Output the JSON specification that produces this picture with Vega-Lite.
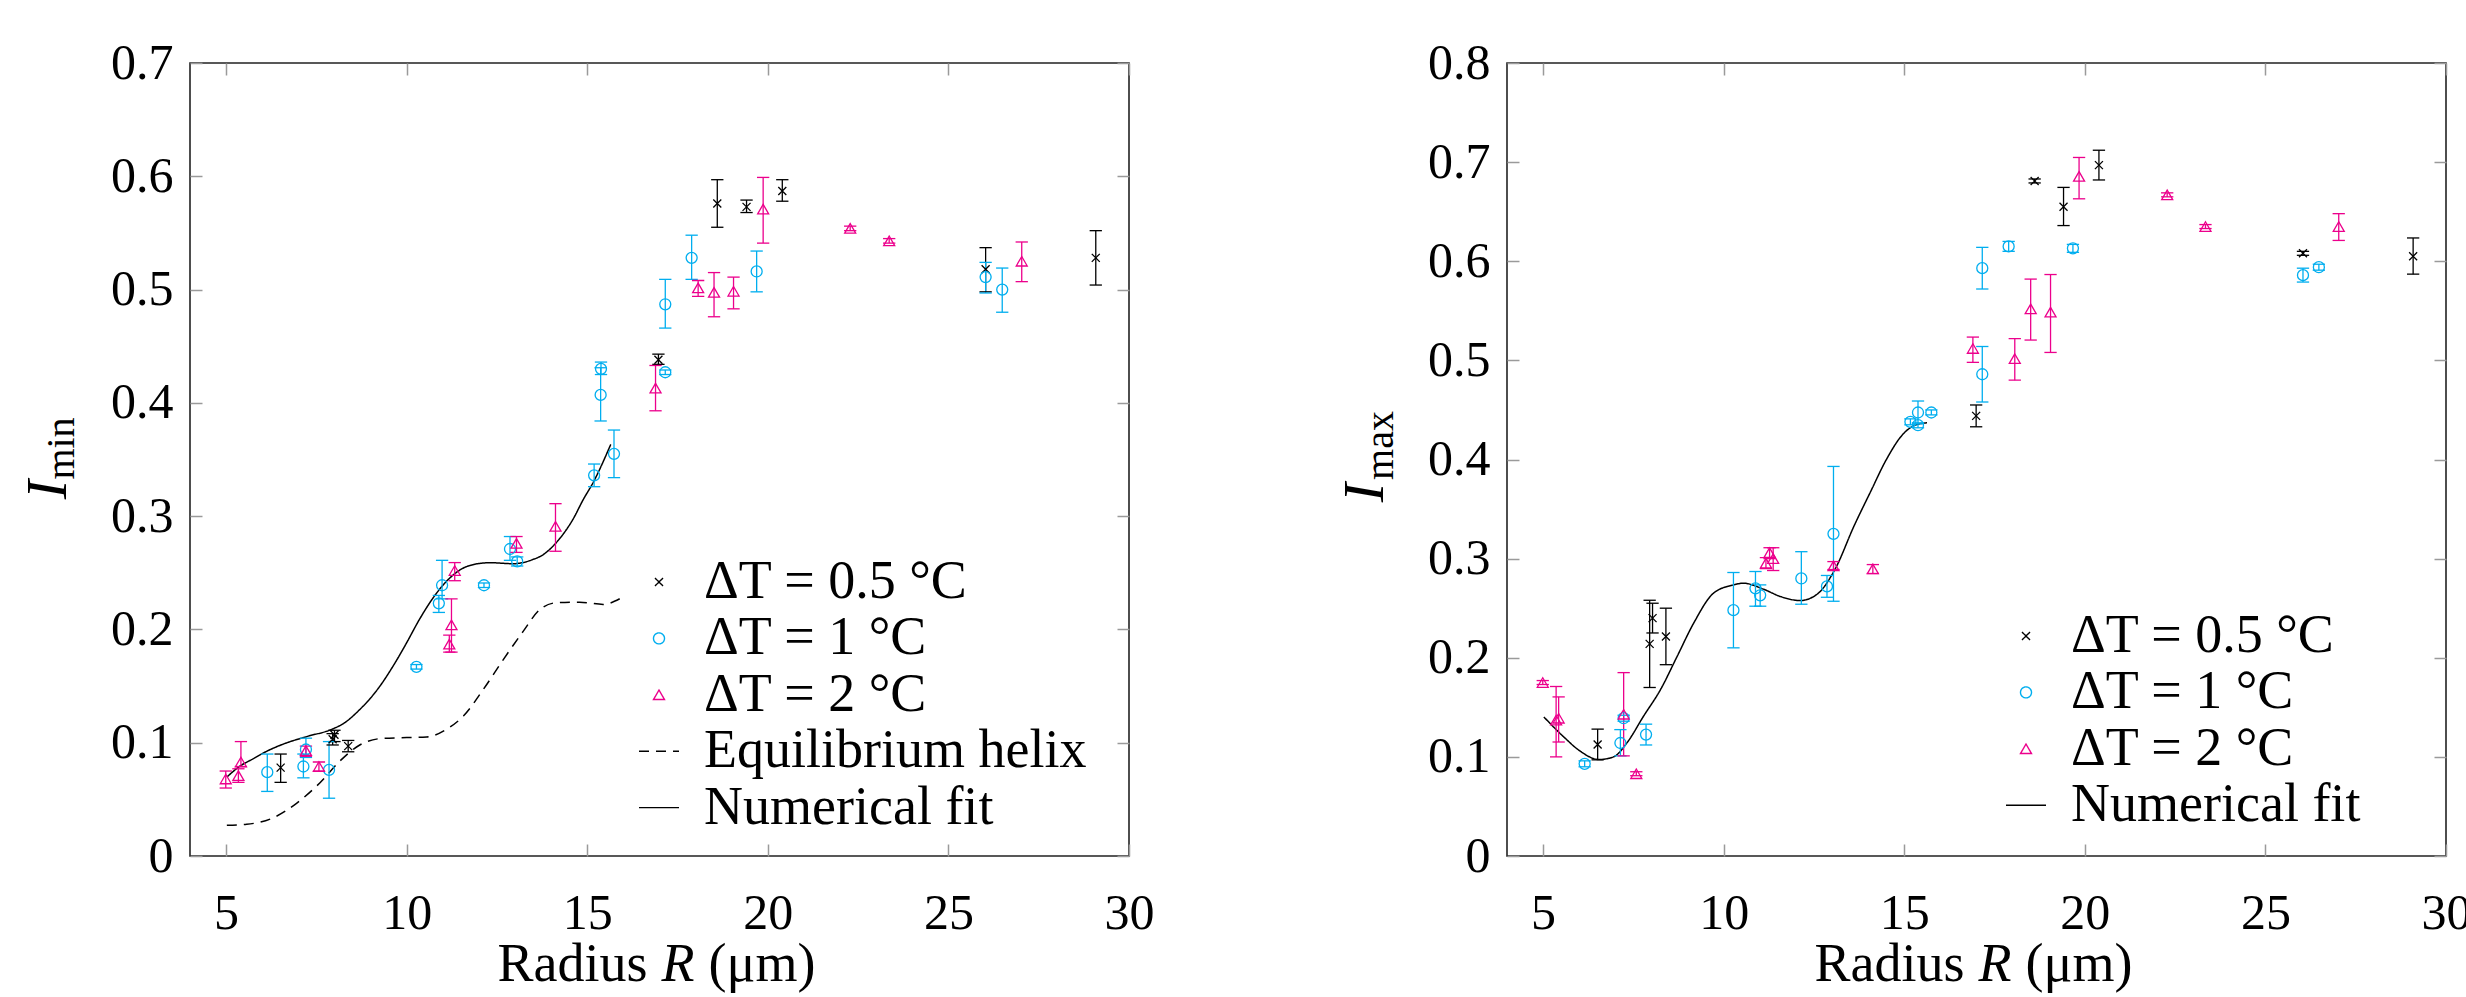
{
  "$schema": "https://vega.github.io/schema/vega-lite/v6.json",
  "autosize": {"type": "none"},
  "padding": {"left": 190, "top": 63, "right": 2276, "bottom": 934},
  "background": "white",
  "bounds": "flush",
  "spacing": 378,
  "config": {
    "font": "Liberation Serif",
    "view": {"stroke": "#222222", "strokeWidth": 1.6},
    "axis": {
      "grid": false, "domain": false, "labelFont": "Liberation Serif", "labelFontSize": 50, "labelColor": "#000000",
      "tickColor": "#9a9a9a", "tickWidth": 1.5, "tickSize": -12, "labelFlush": false, "labelOverlap": false, "labelBound": false,
      "titleColor": "#000000", "titleFont": "Liberation Serif", "titleFontWeight": "normal", "titleFontSize": 54
    },
    "legend": {
      "labelFont": "Liberation Serif", "labelFontSize": 54, "labelColor": "#000000", "labelLimit": 0,
      "symbolStrokeWidth": 1.4, "symbolFillColor": "transparent", "rowPadding": 2.4, "padding": 0
    }
  },
  "datasets": {
    "ptsMin": [
      {"R": 6.51, "I": 0.078, "lo": 0.065, "hi": 0.090, "s": "ΔT = 0.5 °C"},
      {"R": 7.95, "I": 0.103, "lo": 0.098, "hi": 0.108, "s": "ΔT = 0.5 °C"},
      {"R": 8.00, "I": 0.107, "lo": 0.101, "hi": 0.111, "s": "ΔT = 0.5 °C"},
      {"R": 8.38, "I": 0.097, "lo": 0.092, "hi": 0.102, "s": "ΔT = 0.5 °C"},
      {"R": 16.97, "I": 0.438, "lo": 0.434, "hi": 0.443, "s": "ΔT = 0.5 °C"},
      {"R": 18.60, "I": 0.576, "lo": 0.555, "hi": 0.597, "s": "ΔT = 0.5 °C"},
      {"R": 19.41, "I": 0.573, "lo": 0.568, "hi": 0.579, "s": "ΔT = 0.5 °C"},
      {"R": 20.40, "I": 0.587, "lo": 0.578, "hi": 0.597, "s": "ΔT = 0.5 °C"},
      {"R": 26.03, "I": 0.518, "lo": 0.498, "hi": 0.537, "s": "ΔT = 0.5 °C"},
      {"R": 29.08, "I": 0.528, "lo": 0.504, "hi": 0.552, "s": "ΔT = 0.5 °C"},
      {"R": 6.14, "I": 0.074, "lo": 0.057, "hi": 0.090, "s": "ΔT = 1 °C"},
      {"R": 7.14, "I": 0.079, "lo": 0.069, "hi": 0.090, "s": "ΔT = 1 °C"},
      {"R": 7.21, "I": 0.094, "lo": 0.087, "hi": 0.104, "s": "ΔT = 1 °C"},
      {"R": 7.85, "I": 0.076, "lo": 0.051, "hi": 0.101, "s": "ΔT = 1 °C"},
      {"R": 10.27, "I": 0.167, "lo": 0.165, "hi": 0.169, "s": "ΔT = 1 °C"},
      {"R": 10.89, "I": 0.223, "lo": 0.215, "hi": 0.230, "s": "ΔT = 1 °C"},
      {"R": 10.98, "I": 0.239, "lo": 0.227, "hi": 0.261, "s": "ΔT = 1 °C"},
      {"R": 12.14, "I": 0.239, "lo": 0.237, "hi": 0.241, "s": "ΔT = 1 °C"},
      {"R": 12.86, "I": 0.271, "lo": 0.261, "hi": 0.282, "s": "ΔT = 1 °C"},
      {"R": 13.06, "I": 0.260, "lo": 0.256, "hi": 0.264, "s": "ΔT = 1 °C"},
      {"R": 15.19, "I": 0.336, "lo": 0.326, "hi": 0.346, "s": "ΔT = 1 °C"},
      {"R": 15.74, "I": 0.355, "lo": 0.334, "hi": 0.376, "s": "ΔT = 1 °C"},
      {"R": 15.37, "I": 0.407, "lo": 0.384, "hi": 0.431, "s": "ΔT = 1 °C"},
      {"R": 15.38, "I": 0.430, "lo": 0.425, "hi": 0.436, "s": "ΔT = 1 °C"},
      {"R": 17.16, "I": 0.427, "lo": 0.425, "hi": 0.429, "s": "ΔT = 1 °C"},
      {"R": 17.16, "I": 0.487, "lo": 0.466, "hi": 0.509, "s": "ΔT = 1 °C"},
      {"R": 17.89, "I": 0.528, "lo": 0.509, "hi": 0.548, "s": "ΔT = 1 °C"},
      {"R": 19.69, "I": 0.516, "lo": 0.498, "hi": 0.534, "s": "ΔT = 1 °C"},
      {"R": 26.03, "I": 0.511, "lo": 0.497, "hi": 0.524, "s": "ΔT = 1 °C"},
      {"R": 26.49, "I": 0.500, "lo": 0.480, "hi": 0.519, "s": "ΔT = 1 °C"},
      {"R": 4.99, "I": 0.068, "lo": 0.060, "hi": 0.075, "s": "ΔT = 2 °C"},
      {"R": 5.34, "I": 0.071, "lo": 0.065, "hi": 0.077, "s": "ΔT = 2 °C"},
      {"R": 5.41, "I": 0.083, "lo": 0.079, "hi": 0.101, "s": "ΔT = 2 °C"},
      {"R": 7.21, "I": 0.093, "lo": 0.088, "hi": 0.097, "s": "ΔT = 2 °C"},
      {"R": 7.57, "I": 0.079, "lo": 0.075, "hi": 0.083, "s": "ΔT = 2 °C"},
      {"R": 11.18, "I": 0.187, "lo": 0.180, "hi": 0.195, "s": "ΔT = 2 °C"},
      {"R": 11.24, "I": 0.204, "lo": 0.180, "hi": 0.227, "s": "ΔT = 2 °C"},
      {"R": 11.33, "I": 0.252, "lo": 0.243, "hi": 0.259, "s": "ΔT = 2 °C"},
      {"R": 13.04, "I": 0.276, "lo": 0.268, "hi": 0.282, "s": "ΔT = 2 °C"},
      {"R": 14.12, "I": 0.291, "lo": 0.269, "hi": 0.311, "s": "ΔT = 2 °C"},
      {"R": 16.89, "I": 0.413, "lo": 0.393, "hi": 0.433, "s": "ΔT = 2 °C"},
      {"R": 18.07, "I": 0.5015, "lo": 0.494, "hi": 0.508, "s": "ΔT = 2 °C"},
      {"R": 18.51, "I": 0.4975, "lo": 0.476, "hi": 0.515, "s": "ΔT = 2 °C"},
      {"R": 19.05, "I": 0.4985, "lo": 0.483, "hi": 0.511, "s": "ΔT = 2 °C"},
      {"R": 19.87, "I": 0.571, "lo": 0.541, "hi": 0.599, "s": "ΔT = 2 °C"},
      {"R": 22.28, "I": 0.554, "lo": 0.552, "hi": 0.556, "s": "ΔT = 2 °C"},
      {"R": 23.36, "I": 0.543, "lo": 0.541, "hi": 0.545, "s": "ΔT = 2 °C"},
      {"R": 27.03, "I": 0.525, "lo": 0.507, "hi": 0.542, "s": "ΔT = 2 °C"}
    ],
    "linesMin": [
      {"R": 5.02, "I": 0.0697, "s": "Numerical fit"},
      {"R": 5.4, "I": 0.0797, "s": "Numerical fit"},
      {"R": 5.7, "I": 0.085, "s": "Numerical fit"},
      {"R": 6.14, "I": 0.0927, "s": "Numerical fit"},
      {"R": 6.6, "I": 0.099, "s": "Numerical fit"},
      {"R": 7.23, "I": 0.1054, "s": "Numerical fit"},
      {"R": 7.97, "I": 0.1124, "s": "Numerical fit"},
      {"R": 8.3, "I": 0.118, "s": "Numerical fit"},
      {"R": 8.61, "I": 0.1265, "s": "Numerical fit"},
      {"R": 9.26, "I": 0.150, "s": "Numerical fit"},
      {"R": 9.63, "I": 0.168, "s": "Numerical fit"},
      {"R": 10.0, "I": 0.1883, "s": "Numerical fit"},
      {"R": 10.32, "I": 0.207, "s": "Numerical fit"},
      {"R": 10.64, "I": 0.2236, "s": "Numerical fit"},
      {"R": 11.2, "I": 0.2456, "s": "Numerical fit"},
      {"R": 11.75, "I": 0.2565, "s": "Numerical fit"},
      {"R": 12.3, "I": 0.2589, "s": "Numerical fit"},
      {"R": 12.95, "I": 0.258, "s": "Numerical fit"},
      {"R": 13.5, "I": 0.2618, "s": "Numerical fit"},
      {"R": 13.78, "I": 0.266, "s": "Numerical fit"},
      {"R": 14.05, "I": 0.2735, "s": "Numerical fit"},
      {"R": 14.33, "I": 0.284, "s": "Numerical fit"},
      {"R": 14.6, "I": 0.297, "s": "Numerical fit"},
      {"R": 14.89, "I": 0.3147, "s": "Numerical fit"},
      {"R": 15.16, "I": 0.3295, "s": "Numerical fit"},
      {"R": 15.65, "I": 0.3633, "s": "Numerical fit"},
      {"R": 5.02, "I": 0.0271, "s": "Equilibrium helix"},
      {"R": 5.57, "I": 0.028, "s": "Equilibrium helix"},
      {"R": 6.31, "I": 0.0338, "s": "Equilibrium helix"},
      {"R": 6.95, "I": 0.0465, "s": "Equilibrium helix"},
      {"R": 7.6, "I": 0.0647, "s": "Equilibrium helix"},
      {"R": 8.15, "I": 0.0838, "s": "Equilibrium helix"},
      {"R": 8.7, "I": 0.098, "s": "Equilibrium helix"},
      {"R": 9.26, "I": 0.1036, "s": "Equilibrium helix"},
      {"R": 10.0, "I": 0.1045, "s": "Equilibrium helix"},
      {"R": 10.55, "I": 0.105, "s": "Equilibrium helix"},
      {"R": 11.1, "I": 0.1118, "s": "Equilibrium helix"},
      {"R": 11.57, "I": 0.1235, "s": "Equilibrium helix"},
      {"R": 12.12, "I": 0.147, "s": "Equilibrium helix"},
      {"R": 12.68, "I": 0.1736, "s": "Equilibrium helix"},
      {"R": 13.23, "I": 0.1985, "s": "Equilibrium helix"},
      {"R": 13.69, "I": 0.2177, "s": "Equilibrium helix"},
      {"R": 14.15, "I": 0.2236, "s": "Equilibrium helix"},
      {"R": 14.79, "I": 0.2241, "s": "Equilibrium helix"},
      {"R": 15.44, "I": 0.2221, "s": "Equilibrium helix"},
      {"R": 15.9, "I": 0.2271, "s": "Equilibrium helix"}
    ],
    "ptsMax": [
      {"R": 6.51, "I": 0.1125, "lo": 0.097, "hi": 0.128, "s": "ΔT = 0.5 °C"},
      {"R": 7.95, "I": 0.214, "lo": 0.170, "hi": 0.258, "s": "ΔT = 0.5 °C"},
      {"R": 8.03, "I": 0.240, "lo": 0.225, "hi": 0.255, "s": "ΔT = 0.5 °C"},
      {"R": 8.40, "I": 0.2215, "lo": 0.193, "hi": 0.250, "s": "ΔT = 0.5 °C"},
      {"R": 16.99, "I": 0.444, "lo": 0.433, "hi": 0.455, "s": "ΔT = 0.5 °C"},
      {"R": 18.61, "I": 0.681, "lo": 0.679, "hi": 0.683, "s": "ΔT = 0.5 °C"},
      {"R": 19.41, "I": 0.655, "lo": 0.636, "hi": 0.6745, "s": "ΔT = 0.5 °C"},
      {"R": 20.39, "I": 0.697, "lo": 0.682, "hi": 0.712, "s": "ΔT = 0.5 °C"},
      {"R": 26.04, "I": 0.608, "lo": 0.606, "hi": 0.610, "s": "ΔT = 0.5 °C"},
      {"R": 29.09, "I": 0.605, "lo": 0.587, "hi": 0.6235, "s": "ΔT = 0.5 °C"},
      {"R": 6.15, "I": 0.093, "lo": 0.090, "hi": 0.096, "s": "ΔT = 1 °C"},
      {"R": 7.14, "I": 0.114, "lo": 0.101, "hi": 0.1275, "s": "ΔT = 1 °C"},
      {"R": 7.23, "I": 0.139, "lo": 0.136, "hi": 0.142, "s": "ΔT = 1 °C"},
      {"R": 7.85, "I": 0.1225, "lo": 0.112, "hi": 0.133, "s": "ΔT = 1 °C"},
      {"R": 10.27, "I": 0.248, "lo": 0.210, "hi": 0.286, "s": "ΔT = 1 °C"},
      {"R": 10.88, "I": 0.270, "lo": 0.252, "hi": 0.287, "s": "ΔT = 1 °C"},
      {"R": 11.01, "I": 0.263, "lo": 0.252, "hi": 0.2735, "s": "ΔT = 1 °C"},
      {"R": 12.15, "I": 0.280, "lo": 0.254, "hi": 0.307, "s": "ΔT = 1 °C"},
      {"R": 12.86, "I": 0.272, "lo": 0.261, "hi": 0.283, "s": "ΔT = 1 °C"},
      {"R": 13.04, "I": 0.325, "lo": 0.257, "hi": 0.393, "s": "ΔT = 1 °C"},
      {"R": 15.17, "I": 0.438, "lo": 0.435, "hi": 0.441, "s": "ΔT = 1 °C"},
      {"R": 15.38, "I": 0.4474, "lo": 0.436, "hi": 0.459, "s": "ΔT = 1 °C"},
      {"R": 15.38, "I": 0.4346, "lo": 0.432, "hi": 0.437, "s": "ΔT = 1 °C"},
      {"R": 15.75, "I": 0.4474, "lo": 0.445, "hi": 0.450, "s": "ΔT = 1 °C"},
      {"R": 17.16, "I": 0.486, "lo": 0.458, "hi": 0.514, "s": "ΔT = 1 °C"},
      {"R": 17.16, "I": 0.593, "lo": 0.572, "hi": 0.614, "s": "ΔT = 1 °C"},
      {"R": 17.89, "I": 0.615, "lo": 0.610, "hi": 0.620, "s": "ΔT = 1 °C"},
      {"R": 19.67, "I": 0.613, "lo": 0.609, "hi": 0.617, "s": "ΔT = 1 °C"},
      {"R": 26.04, "I": 0.586, "lo": 0.579, "hi": 0.593, "s": "ΔT = 1 °C"},
      {"R": 26.48, "I": 0.594, "lo": 0.591, "hi": 0.597, "s": "ΔT = 1 °C"},
      {"R": 4.99, "I": 0.175, "lo": 0.173, "hi": 0.177, "s": "ΔT = 2 °C"},
      {"R": 5.36, "I": 0.137, "lo": 0.100, "hi": 0.171, "s": "ΔT = 2 °C"},
      {"R": 5.43, "I": 0.139, "lo": 0.115, "hi": 0.1605, "s": "ΔT = 2 °C"},
      {"R": 7.23, "I": 0.143, "lo": 0.101, "hi": 0.185, "s": "ΔT = 2 °C"},
      {"R": 7.58, "I": 0.083, "lo": 0.081, "hi": 0.085, "s": "ΔT = 2 °C"},
      {"R": 11.17, "I": 0.2955, "lo": 0.290, "hi": 0.301, "s": "ΔT = 2 °C"},
      {"R": 11.27, "I": 0.306, "lo": 0.300, "hi": 0.311, "s": "ΔT = 2 °C"},
      {"R": 11.37, "I": 0.300, "lo": 0.288, "hi": 0.311, "s": "ΔT = 2 °C"},
      {"R": 13.04, "I": 0.2927, "lo": 0.289, "hi": 0.297, "s": "ΔT = 2 °C"},
      {"R": 14.13, "I": 0.2896, "lo": 0.285, "hi": 0.294, "s": "ΔT = 2 °C"},
      {"R": 16.90, "I": 0.512, "lo": 0.498, "hi": 0.5235, "s": "ΔT = 2 °C"},
      {"R": 18.06, "I": 0.5017, "lo": 0.480, "hi": 0.522, "s": "ΔT = 2 °C"},
      {"R": 18.50, "I": 0.552, "lo": 0.5205, "hi": 0.582, "s": "ΔT = 2 °C"},
      {"R": 19.05, "I": 0.5487, "lo": 0.508, "hi": 0.5866, "s": "ΔT = 2 °C"},
      {"R": 19.84, "I": 0.6856, "lo": 0.663, "hi": 0.7047, "s": "ΔT = 2 °C"},
      {"R": 22.28, "I": 0.667, "lo": 0.665, "hi": 0.669, "s": "ΔT = 2 °C"},
      {"R": 23.34, "I": 0.635, "lo": 0.633, "hi": 0.637, "s": "ΔT = 2 °C"},
      {"R": 27.03, "I": 0.635, "lo": 0.621, "hi": 0.648, "s": "ΔT = 2 °C"}
    ],
    "linesMax": [
      {"R": 5.02, "I": 0.1403, "s": "Numerical fit"},
      {"R": 5.57, "I": 0.1202, "s": "Numerical fit"},
      {"R": 6.03, "I": 0.1057, "s": "Numerical fit"},
      {"R": 6.54, "I": 0.0973, "s": "Numerical fit"},
      {"R": 6.95, "I": 0.100, "s": "Numerical fit"},
      {"R": 7.32, "I": 0.1141, "s": "Numerical fit"},
      {"R": 7.78, "I": 0.141, "s": "Numerical fit"},
      {"R": 8.25, "I": 0.1678, "s": "Numerical fit"},
      {"R": 8.71, "I": 0.2013, "s": "Numerical fit"},
      {"R": 9.17, "I": 0.235, "s": "Numerical fit"},
      {"R": 9.72, "I": 0.2652, "s": "Numerical fit"},
      {"R": 10.27, "I": 0.2735, "s": "Numerical fit"},
      {"R": 10.55, "I": 0.2752, "s": "Numerical fit"},
      {"R": 11.1, "I": 0.2692, "s": "Numerical fit"},
      {"R": 11.57, "I": 0.2618, "s": "Numerical fit"},
      {"R": 12.12, "I": 0.2577, "s": "Numerical fit"},
      {"R": 12.6, "I": 0.2645, "s": "Numerical fit"},
      {"R": 13.1, "I": 0.2905, "s": "Numerical fit"},
      {"R": 13.6, "I": 0.3322, "s": "Numerical fit"},
      {"R": 14.06, "I": 0.367, "s": "Numerical fit"},
      {"R": 14.52, "I": 0.401, "s": "Numerical fit"},
      {"R": 14.98, "I": 0.4262, "s": "Numerical fit"},
      {"R": 15.35, "I": 0.4353, "s": "Numerical fit"},
      {"R": 15.63, "I": 0.437, "s": "Numerical fit"}
    ]
  },
  "resolve": {
    "scale": {"x": "independent", "y": "independent", "color": "independent", "shape": "independent", "size": "independent", "strokeDash": "independent"},
    "legend": {"color": "independent", "shape": "independent", "size": "independent", "strokeDash": "independent"}
  },
  "hconcat": [
    {
      "width": 939, "height": 793,
      "resolve": {"axis": {"x": "independent", "y": "independent"}},
      "layer": [
        {
          "data": {"name": "linesMin"},
          "mark": {"type": "line", "interpolate": "monotone", "strokeWidth": 1.5, "opacity": 1},
          "encoding": {
            "x": {"field": "R", "type": "quantitative", "scale": {"domain": [4, 30], "nice": false, "zero": false},
              "axis": {"orient": "bottom", "values": [5, 10, 15, 20, 25, 30], "labelPadding": 44, "title": "Radius", "titleX": 307, "titleY": 124, "titleAlign": "left", "titleBaseline": "alphabetic"}},
            "y": {"field": "I", "type": "quantitative", "scale": {"domain": [0, 0.7], "nice": false},
              "axis": {"orient": "left", "values": [0, 0.1, 0.2, 0.3, 0.4, 0.5, 0.6, 0.7], "labelExpr": "datum.value == 0 ? '0' : format(datum.value, '.1f')", "labelPadding": 29, "title": "I", "titleFontStyle": "italic", "titleFontSize": 58, "titleX": -125, "titleY": 426, "titleAngle": 270, "titleAlign": "center", "titleBaseline": "alphabetic"}},
            "color": {"field": "s", "type": "nominal",
              "scale": {"domain": ["ΔT = 0.5 °C", "ΔT = 1 °C", "ΔT = 2 °C", "Equilibrium helix", "Numerical fit"], "range": ["#000000", "#00AEEF", "#EC008C", "#000000", "#000000"]},
              "legend": {"orient": "none", "legendX": 442, "legendY": 492, "title": null, "labelOffset": 18, "encode": {"symbols": {"fill": {"value": "transparent"}}}}},
            "strokeDash": {"field": "s", "type": "nominal",
              "scale": {"domain": ["ΔT = 0.5 °C", "ΔT = 1 °C", "ΔT = 2 °C", "Equilibrium helix", "Numerical fit"], "range": [[1, 0], [1, 0], [1, 0], [10, 7], [1, 0]]},
              "legend": {"orient": "none", "legendX": 442, "legendY": 492, "title": null, "labelOffset": 18, "encode": {"symbols": {"fill": {"value": "transparent"}}}}}
          }
        },
        {
          "data": {"name": "ptsMin"},
          "mark": {"type": "rule", "strokeWidth": 1.3, "opacity": 1},
          "encoding": {
            "x": {"field": "R", "type": "quantitative", "axis": {"orient": "top", "values": [5, 10, 15, 20, 25, 30], "labels": false, "title": null}},
            "y": {"field": "lo", "type": "quantitative", "axis": {"orient": "right", "values": [0, 0.1, 0.2, 0.3, 0.4, 0.5, 0.6, 0.7], "labels": false, "title": null}},
            "y2": {"field": "hi"},
            "color": {"field": "s", "type": "nominal", "legend": null}
          }
        },
        {
          "data": {"name": "ptsMin"},
          "mark": {"type": "tick", "orient": "horizontal", "size": 11, "thickness": 0.01, "filled": false, "strokeWidth": 1.3, "opacity": 1},
          "encoding": {
            "x": {"field": "R", "type": "quantitative", "axis": {"orient": "bottom", "ticks": false, "labels": false, "title": "R", "titleFontStyle": "italic", "titleX": 471, "titleY": 124, "titleAlign": "left", "titleBaseline": "alphabetic"}},
            "y": {"field": "lo", "type": "quantitative", "axis": {"orient": "left", "ticks": false, "labels": false, "title": "min", "titleFontSize": 40, "titleX": -117, "titleY": 385, "titleAngle": 270, "titleAlign": "center", "titleBaseline": "alphabetic"}},
            "color": {"field": "s", "type": "nominal", "legend": null}
          }
        },
        {
          "data": {"name": "ptsMin"},
          "mark": {"type": "tick", "orient": "horizontal", "size": 11, "thickness": 0.01, "filled": false, "strokeWidth": 1.3, "opacity": 1},
          "encoding": {
            "x": {"field": "R", "type": "quantitative", "axis": {"orient": "bottom", "ticks": false, "labels": false, "title": "(μm)", "titleX": 518, "titleY": 124, "titleAlign": "left", "titleBaseline": "alphabetic"}},
            "y": {"field": "hi", "type": "quantitative", "axis": null},
            "color": {"field": "s", "type": "nominal", "legend": null}
          }
        },
        {
          "data": {"name": "ptsMin"},
          "mark": {"type": "point", "filled": false, "strokeWidth": 1.3, "opacity": 1},
          "encoding": {
            "x": {"field": "R", "type": "quantitative", "axis": null},
            "y": {"field": "I", "type": "quantitative", "axis": null},
            "color": {"field": "s", "type": "nominal", "legend": {"orient": "none", "legendX": 442, "legendY": 492, "title": null, "labelOffset": 18, "encode": {"symbols": {"fill": {"value": "transparent"}}}}},
            "shape": {"field": "s", "type": "nominal",
              "scale": {"domain": ["ΔT = 0.5 °C", "ΔT = 1 °C", "ΔT = 2 °C", "Equilibrium helix", "Numerical fit"], "range": ["M-1,-1L1,1M-1,1L1,-1", "circle", "triangle-up", "stroke", "stroke"]},
              "legend": {"orient": "none", "legendX": 442, "legendY": 492, "title": null, "labelOffset": 18, "encode": {"symbols": {"fill": {"value": "transparent"}}}}},
            "size": {"field": "s", "type": "nominal",
              "scale": {"type": "ordinal", "domain": ["ΔT = 0.5 °C", "ΔT = 1 °C", "ΔT = 2 °C", "Equilibrium helix", "Numerical fit"], "range": [64, 121, 121, 1600, 1600]},
              "legend": {"orient": "none", "legendX": 442, "legendY": 492, "title": null, "labelOffset": 18, "encode": {"symbols": {"fill": {"value": "transparent"}}}}}
          }
        }
      ]
    },
    {
      "width": 939, "height": 793,
      "resolve": {"axis": {"x": "independent", "y": "independent"}},
      "layer": [
        {
          "data": {"name": "linesMax"},
          "mark": {"type": "line", "interpolate": "monotone", "strokeWidth": 1.5, "opacity": 1},
          "encoding": {
            "x": {"field": "R", "type": "quantitative", "scale": {"domain": [4, 30], "nice": false, "zero": false},
              "axis": {"orient": "bottom", "values": [5, 10, 15, 20, 25, 30], "labelPadding": 44, "title": "Radius", "titleX": 307, "titleY": 124, "titleAlign": "left", "titleBaseline": "alphabetic"}},
            "y": {"field": "I", "type": "quantitative", "scale": {"domain": [0, 0.8], "nice": false},
              "axis": {"orient": "left", "values": [0, 0.1, 0.2, 0.3, 0.4, 0.5, 0.6, 0.7, 0.8], "labelExpr": "datum.value == 0 ? '0' : format(datum.value, '.1f')", "labelPadding": 29, "title": "I", "titleFontStyle": "italic", "titleFontSize": 58, "titleX": -125, "titleY": 429, "titleAngle": 270, "titleAlign": "center", "titleBaseline": "alphabetic"}},
            "color": {"field": "s", "type": "nominal",
              "scale": {"domain": ["ΔT = 0.5 °C", "ΔT = 1 °C", "ΔT = 2 °C", "Numerical fit"], "range": ["#000000", "#00AEEF", "#EC008C", "#000000"]},
              "legend": {"orient": "none", "legendX": 492, "legendY": 546, "title": null, "labelOffset": 18, "encode": {"symbols": {"fill": {"value": "transparent"}}}}},
            "strokeDash": {"field": "s", "type": "nominal",
              "scale": {"domain": ["ΔT = 0.5 °C", "ΔT = 1 °C", "ΔT = 2 °C", "Numerical fit"], "range": [[1, 0], [1, 0], [1, 0], [1, 0]]},
              "legend": {"orient": "none", "legendX": 492, "legendY": 546, "title": null, "labelOffset": 18, "encode": {"symbols": {"fill": {"value": "transparent"}}}}}
          }
        },
        {
          "data": {"name": "ptsMax"},
          "mark": {"type": "rule", "strokeWidth": 1.3, "opacity": 1},
          "encoding": {
            "x": {"field": "R", "type": "quantitative", "axis": {"orient": "top", "values": [5, 10, 15, 20, 25, 30], "labels": false, "title": null}},
            "y": {"field": "lo", "type": "quantitative", "axis": {"orient": "right", "values": [0, 0.1, 0.2, 0.3, 0.4, 0.5, 0.6, 0.7, 0.8], "labels": false, "title": null}},
            "y2": {"field": "hi"},
            "color": {"field": "s", "type": "nominal", "legend": null}
          }
        },
        {
          "data": {"name": "ptsMax"},
          "mark": {"type": "tick", "orient": "horizontal", "size": 11, "thickness": 0.01, "filled": false, "strokeWidth": 1.3, "opacity": 1},
          "encoding": {
            "x": {"field": "R", "type": "quantitative", "axis": {"orient": "bottom", "ticks": false, "labels": false, "title": "R", "titleFontStyle": "italic", "titleX": 471, "titleY": 124, "titleAlign": "left", "titleBaseline": "alphabetic"}},
            "y": {"field": "lo", "type": "quantitative", "axis": {"orient": "left", "ticks": false, "labels": false, "title": "max", "titleFontSize": 40, "titleX": -115, "titleY": 382, "titleAngle": 270, "titleAlign": "center", "titleBaseline": "alphabetic"}},
            "color": {"field": "s", "type": "nominal", "legend": null}
          }
        },
        {
          "data": {"name": "ptsMax"},
          "mark": {"type": "tick", "orient": "horizontal", "size": 11, "thickness": 0.01, "filled": false, "strokeWidth": 1.3, "opacity": 1},
          "encoding": {
            "x": {"field": "R", "type": "quantitative", "axis": {"orient": "bottom", "ticks": false, "labels": false, "title": "(μm)", "titleX": 518, "titleY": 124, "titleAlign": "left", "titleBaseline": "alphabetic"}},
            "y": {"field": "hi", "type": "quantitative", "axis": null},
            "color": {"field": "s", "type": "nominal", "legend": null}
          }
        },
        {
          "data": {"name": "ptsMax"},
          "mark": {"type": "point", "filled": false, "strokeWidth": 1.3, "opacity": 1},
          "encoding": {
            "x": {"field": "R", "type": "quantitative", "axis": null},
            "y": {"field": "I", "type": "quantitative", "axis": null},
            "color": {"field": "s", "type": "nominal", "legend": {"orient": "none", "legendX": 492, "legendY": 546, "title": null, "labelOffset": 18, "encode": {"symbols": {"fill": {"value": "transparent"}}}}},
            "shape": {"field": "s", "type": "nominal",
              "scale": {"domain": ["ΔT = 0.5 °C", "ΔT = 1 °C", "ΔT = 2 °C", "Numerical fit"], "range": ["M-1,-1L1,1M-1,1L1,-1", "circle", "triangle-up", "stroke"]},
              "legend": {"orient": "none", "legendX": 492, "legendY": 546, "title": null, "labelOffset": 18, "encode": {"symbols": {"fill": {"value": "transparent"}}}}},
            "size": {"field": "s", "type": "nominal",
              "scale": {"type": "ordinal", "domain": ["ΔT = 0.5 °C", "ΔT = 1 °C", "ΔT = 2 °C", "Numerical fit"], "range": [64, 121, 121, 1600]},
              "legend": {"orient": "none", "legendX": 492, "legendY": 546, "title": null, "labelOffset": 18, "encode": {"symbols": {"fill": {"value": "transparent"}}}}}
          }
        }
      ]
    }
  ]
}
